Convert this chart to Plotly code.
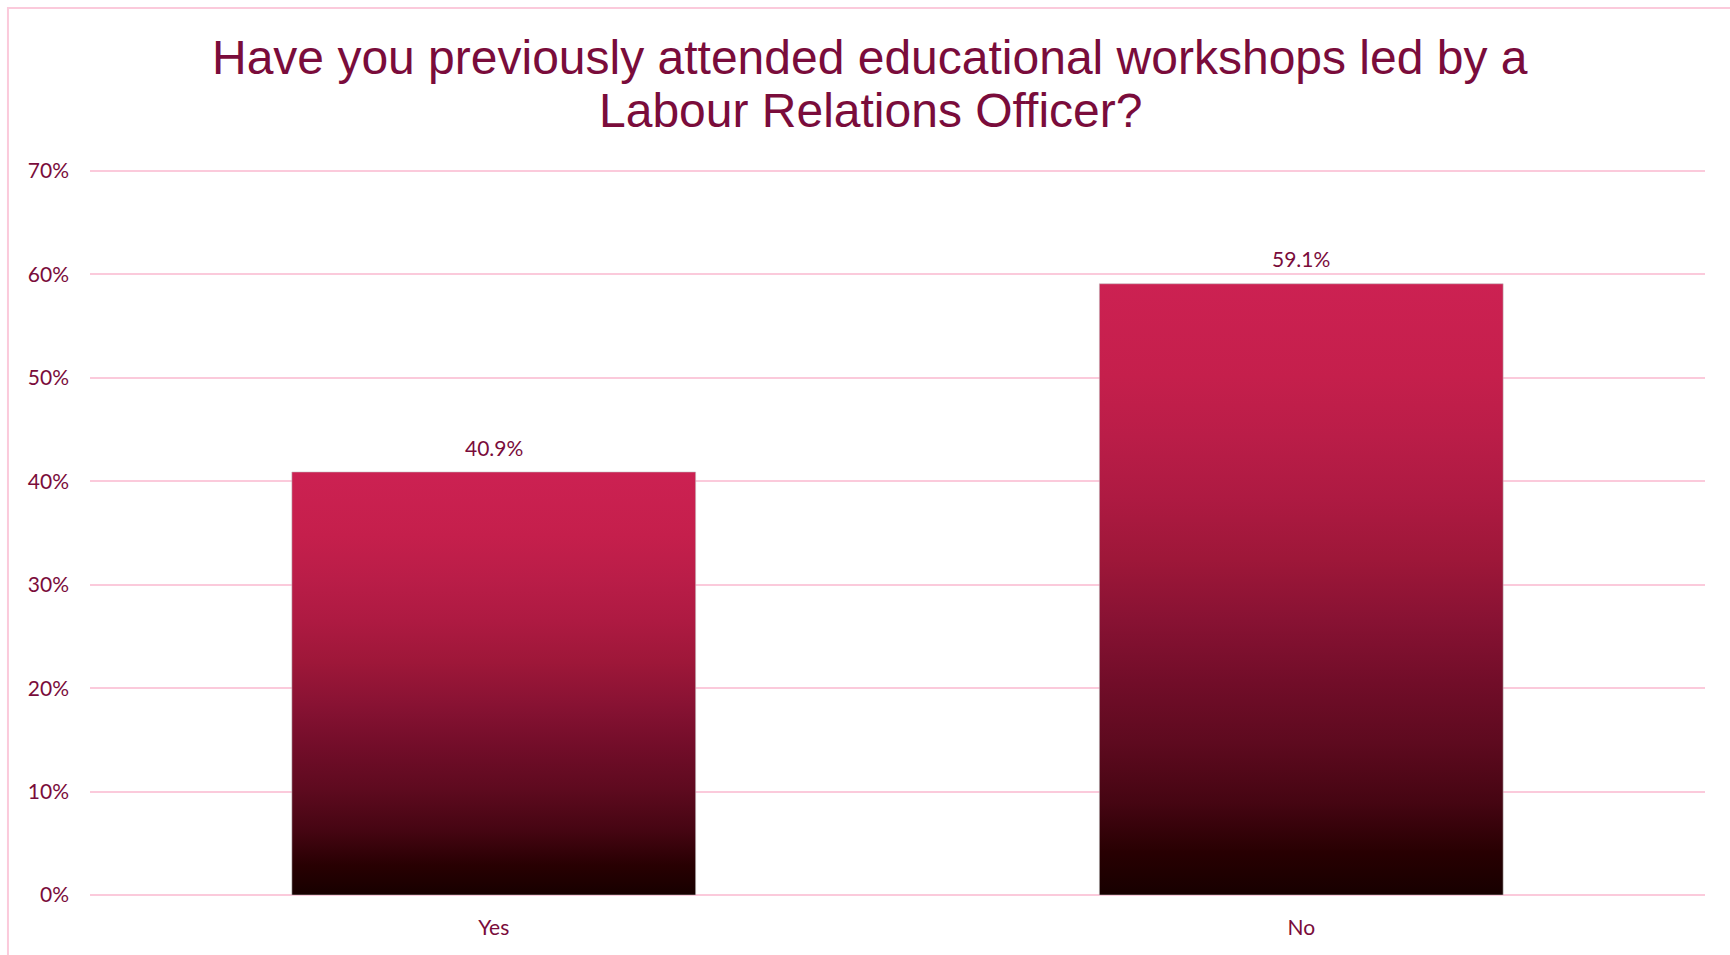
import plotly.graph_objects as go

# Survey responses
categories = ["Yes", "No"]
shares = [0.409, 0.591]
y_ticks = [0.0, 0.1, 0.2, 0.3, 0.4, 0.5, 0.6, 0.7]

title_lines = [
    "Have you previously attended educational workshops led by a",
    "Labour Relations Officer?",
]

MAROON = "#7A0C3B"
PINK = "#FBCADB"
BAR_HALF = 0.25

# Vertical gradient, dark at the base rising to crimson at the top of each bar
gradient = [
    [0.00, "#170000"],
    [0.07, "#280002"],
    [0.15, "#450512"],
    [0.25, "#5E0A1F"],
    [0.35, "#720D29"],
    [0.45, "#881233"],
    [0.55, "#9E1739"],
    [0.65, "#AE1A42"],
    [0.75, "#BA1D48"],
    [0.85, "#C51F4C"],
    [1.00, "#CC2152"],
]

fig = go.Figure()

for i, (cat, val) in enumerate(zip(categories, shares)):
    xs = [i - BAR_HALF, i + BAR_HALF, i + BAR_HALF, i - BAR_HALF, i - BAR_HALF]
    ys = [0, 0, val, val, 0]
    fig.add_trace(
        go.Scatter(
            x=xs,
            y=ys,
            mode="lines",
            fill="toself",
            fillgradient=dict(type="vertical", colorscale=gradient),
            line=dict(color="rgba(190,190,190,0.55)", width=1),
            name=cat,
            hoverinfo="skip",
            showlegend=False,
        )
    )
    fig.add_annotation(
        x=i,
        y=val,
        xref="x",
        yref="y",
        text=f"{val * 100:.1f}%",
        showarrow=False,
        yanchor="middle",
        yshift=25,
        font=dict(family="Lato", size=21, color=MAROON),
    )

# Two-line heading
for k, (line, shift) in enumerate(zip(title_lines, [113, 60])):
    fig.add_annotation(
        x=0.483,
        y=1,
        xref="paper",
        yref="paper",
        text=line,
        showarrow=False,
        xanchor="center",
        yanchor="middle",
        yshift=shift,
        font=dict(family="Liberation Sans, Arial", size=48, color=MAROON),
    )

# Outer frame of the chart area
fig.add_shape(
    type="rect",
    xref="paper",
    yref="paper",
    x0=-0.0508,
    x1=1.2,
    y0=-0.3,
    y1=1.2234,
    line=dict(color=PINK, width=2),
    fillcolor="rgba(0,0,0,0)",
    layer="below",
)

fig.update_layout(
    width=1730,
    height=955,
    margin=dict(l=90, r=25, t=170, b=60),
    paper_bgcolor="white",
    plot_bgcolor="white",
    showlegend=False,
    xaxis=dict(
        range=[-0.5, len(categories) - 0.5],
        tickvals=list(range(len(categories))),
        ticktext=categories,
        showgrid=False,
        zeroline=False,
        showline=False,
        ticks="",
        ticklabelstandoff=18,
        tickfont=dict(family="Lato", size=21, color=MAROON),
        fixedrange=True,
        automargin=False,
    ),
    yaxis=dict(
        range=[0, 0.701],
        tickvals=y_ticks,
        tickformat=".0%",
        showgrid=True,
        gridcolor=PINK,
        gridwidth=2,
        zeroline=True,
        zerolinecolor=PINK,
        zerolinewidth=2,
        showline=False,
        ticks="",
        ticklabelstandoff=20,
        tickfont=dict(family="Lato", size=21, color=MAROON),
        fixedrange=True,
        automargin=False,
    ),
)

fig.write_html("out.html")
